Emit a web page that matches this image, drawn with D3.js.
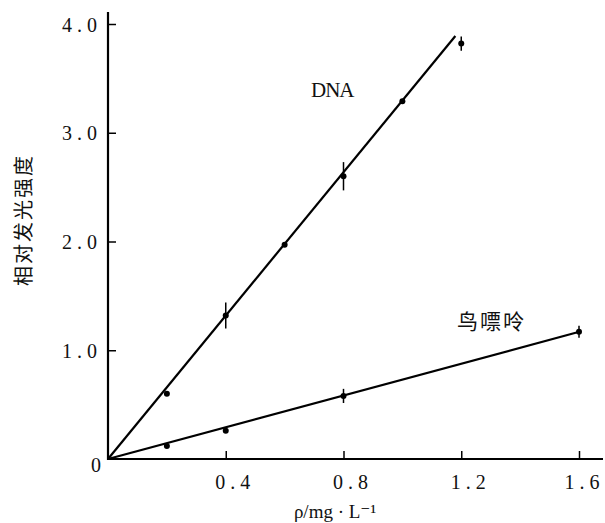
<!DOCTYPE html>
<html><head><meta charset="utf-8">
<script src="https://cdn.jsdelivr.net/npm/d3@7"></script>
<style>
html,body{margin:0;padding:0;background:#fff;}
svg{display:block;}
</style>
</head><body>
<svg id="c" width="605" height="523"></svg>
<script>
// ---- data ----
const xTicks = [0.4, 0.8, 1.2, 1.6];
const yTicks = [1.0, 2.0, 3.0, 4.0];
const dnaX = [0.2, 0.4, 0.6, 0.8, 1.0, 1.2];
const dnaY = [0.60, 1.32, 1.97, 2.60, 3.29, 3.82];
const dnaErr = [0, 0.12, 0, 0.13, 0, 0.065];
const guaX = [0.2, 0.4, 0.8, 1.6];
const guaY = [0.12, 0.26, 0.58, 1.17];
const guaErr = [0, 0, 0.065, 0.055];
const dnaFitX = [0, 1.18];
const dnaFitY = [0, 3.89];
const guaFitX = [0, 1.595];
const guaFitY = [0, 1.165];
const seriesNames = ["DNA", "鸟嘌呤"];
const xTitle = "ρ/mg · L⁻¹";
const yTitle = "相对发光强度";

// ---- layout ----
const svg = d3.select("#c");
const x = d3.scaleLinear().domain([0, 1.6]).range([108, 579]);
const y = d3.scaleLinear().domain([0, 4]).range([459, 24]);
const serif = "'Liberation Serif','DejaVu Serif',serif";
const cjk = "'Noto Sans CJK SC','Noto Sans',sans-serif";

// axis lines
svg.append("line").attr("x1", x(0)).attr("x2", 603).attr("y1", y(0)).attr("y2", y(0))
  .attr("stroke", "#000").attr("stroke-width", 2.2);
svg.append("line").attr("x1", x(0)).attr("x2", x(0)).attr("y1", y(0) + 1).attr("y2", 12)
  .attr("stroke", "#000").attr("stroke-width", 2.2);

// x axis
const gx = svg.append("g").attr("transform", `translate(0,${y(0)})`)
  .call(d3.axisBottom(x).tickValues(xTicks).tickSize(-8).tickFormat(d3.format(".1f")));
gx.select(".domain").remove();
gx.selectAll(".tick line").attr("stroke", "#000").attr("stroke-width", 1.5);
gx.selectAll(".tick text").attr("y", 30).attr("dy", 0)
  .attr("dx", (d, i) => i === xTicks.length - 1 ? 5 : 9)
  .attr("font-family", serif).attr("font-size", 20).attr("letter-spacing", 5)
  .attr("fill", "#111");

// y axis
const gy = svg.append("g").attr("transform", `translate(${x(0)},0)`)
  .call(d3.axisLeft(y).tickValues(yTicks).tickSize(-8).tickFormat(d3.format(".1f")));
gy.select(".domain").remove();
gy.selectAll(".tick line").attr("stroke", "#000").attr("stroke-width", 1.5);
gy.selectAll(".tick text").attr("x", -6).attr("dy", "0.35em")
  .attr("font-family", serif).attr("font-size", 20).attr("letter-spacing", 5)
  .attr("fill", "#111");
// zero label
svg.append("text").attr("x", x(0) - 7).attr("y", y(0) + 13).attr("text-anchor", "end")
  .attr("font-family", serif).attr("font-size", 20).attr("fill", "#111").text("0");

// fit lines
const line = d3.line().x(d => x(d[0])).y(d => y(d[1]));
svg.append("path").datum(d3.zip(dnaFitX, dnaFitY)).attr("d", line)
  .attr("fill", "none").attr("stroke", "#000").attr("stroke-width", 2.2);
svg.append("path").datum(d3.zip(guaFitX, guaFitY)).attr("d", line)
  .attr("fill", "none").attr("stroke", "#000").attr("stroke-width", 2.2);

// points + error bars
function drawSeries(xs, ys, es) {
  const data = xs.map((v, i) => ({x: v, y: ys[i], e: es[i]}));
  const g = svg.append("g");
  g.selectAll("line.err").data(data.filter(d => d.e > 0)).join("line")
    .attr("x1", d => x(d.x)).attr("x2", d => x(d.x))
    .attr("y1", d => y(d.y - d.e)).attr("y2", d => y(d.y + d.e))
    .attr("stroke", "#000").attr("stroke-width", 1.5);
  g.selectAll("circle").data(data).join("circle")
    .attr("cx", d => x(d.x)).attr("cy", d => y(d.y)).attr("r", 3)
    .attr("fill", "#000");
}
drawSeries(dnaX, dnaY, dnaErr);
drawSeries(guaX, guaY, guaErr);

// series labels
svg.append("text").attr("x", 311).attr("y", 97).attr("font-family", serif)
  .attr("font-size", 21).attr("letter-spacing", -1).attr("fill", "#111").text(seriesNames[0]);
svg.append("text").attr("x", 457).attr("y", 329).attr("font-family", cjk)
  .attr("font-size", 21).attr("letter-spacing", 2).attr("fill", "#111").text(seriesNames[1]);

// axis titles
svg.append("text").attr("x", 335).attr("y", 518).attr("text-anchor", "middle")
  .attr("font-family", serif).attr("font-size", 19).attr("fill", "#111").text(xTitle);
svg.append("text").attr("transform", "translate(31,220) rotate(-90)")
  .attr("text-anchor", "middle").attr("font-family", cjk).attr("font-size", 20)
  .attr("letter-spacing", 2).attr("fill", "#111").text(yTitle);
</script>
</body></html>
